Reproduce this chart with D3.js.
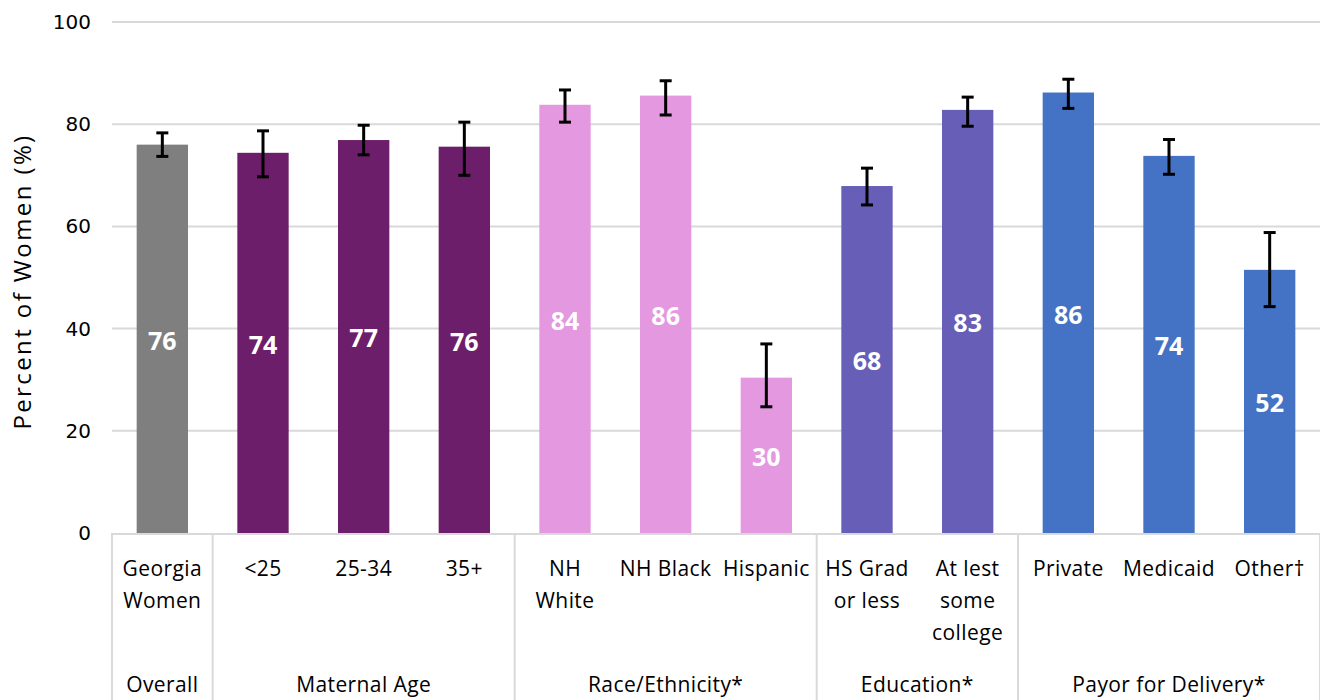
<!DOCTYPE html>
<html>
<head>
<meta charset="utf-8">
<script src="https://cdn.jsdelivr.net/npm/d3@7"></script>
<style>
body { margin: 0; background: #fff; }
text { font-family: "Open Sans", "Noto Sans", sans-serif; }
</style>
</head>
<body>
<div id="chart"></div>
<script>
var width = 1320,
height = 700;

// data
var categories = ["Georgia\nWomen", "<25", "25-34", "35+", "NH\nWhite", "NH Black", "Hispanic",
  "HS Grad\nor less", "At lest\nsome\ncollege", "Private", "Medicaid", "Other\u2020"];
var values = [76, 74.4, 76.9, 75.6, 83.8, 85.6, 30.4, 67.9, 82.8, 86.2, 73.8, 51.5];
var labels = ["76", "74", "77", "76", "84", "86", "30", "68", "83", "86", "74", "52"];
var ciLow = [73.7, 69.7, 74.0, 70.0, 80.4, 81.8, 24.7, 64.2, 79.6, 83.1, 70.2, 44.3];
var ciHigh = [78.3, 78.7, 79.8, 80.4, 86.7, 88.5, 37.0, 71.4, 85.3, 88.8, 77.0, 58.8];
var groups = ["Overall", "Maternal Age", "Race/Ethnicity*", "Education*", "Payor for Delivery*"];
var groupSizes = [1, 3, 3, 2, 3];
var groupColors = ["#7f7f7f", "#6d1e6b", "#e398e0", "#675eb8", "#4472c4"];
var yTicks = [0, 20, 40, 60, 80, 100];

var margin = {left: 112, right: 0, top: 22, bottom: 167};

var svg = d3.select("#chart").append("svg")
.attr("width", width)
.attr("height", height);

var x = d3.scaleBand()
.domain(d3.range(categories.length))
.range([margin.left, width - margin.right])
.paddingInner(0.49)
.paddingOuter(0.245);

var y = d3.scaleLinear()
.domain([0, 100])
.range([height - margin.bottom, margin.top]);

// group index of each category
var groupOf = [];
groupSizes.forEach(function(n, g) {
  for (var k = 0; k < n; k++) groupOf.push(g);
});

// gridlines
svg.append("g")
.selectAll("line")
.data(yTicks.slice(1))
.enter().append("line")
.attr("x1", margin.left)
.attr("x2", width - margin.right)
.attr("y1", function(d){ return y(d); })
.attr("y2", function(d){ return y(d); })
.style("stroke", "#d9d9d9")
.style("stroke-width", 2);

// y tick labels
svg.append("g")
.selectAll("text")
.data(yTicks)
.enter().append("text")
.attr("x", 91)
.attr("y", function(d){ return y(d); })
.attr("dy", "0.35em")
.attr("text-anchor", "end")
.style("font-family", "'DejaVu Sans', sans-serif")
.style("font-size", "20px")
.style("fill", "#000")
.text(function(d){ return d; });

// y axis title
svg.append("text")
.attr("transform", "translate(31," + ((y(0) + y(100)) / 2 + 4) + ") rotate(-90)")
.attr("text-anchor", "middle")
.style("font-size", "24px")
.style("letter-spacing", "2.4px")
.style("fill", "#000")
.text("Percent of  Women (%)");

// bars
svg.append("g")
.selectAll("rect")
.data(values)
.enter().append("rect")
.attr("x", function(d, i){ return x(i); })
.attr("width", x.bandwidth())
.attr("y", function(d){ return y(d); })
.attr("height", function(d){ return y(0) - y(d); })
.style("fill", function(d, i){ return groupColors[groupOf[i]]; });

// value labels
svg.append("g")
.selectAll("text")
.data(values)
.enter().append("text")
.attr("x", function(d, i){ return x(i) + x.bandwidth() / 2; })
.attr("y", function(d){ return (y(d) + y(0)) / 2 + 2; })
.attr("dy", "0.35em")
.attr("text-anchor", "middle")
.style("font-size", "25px")
.style("font-weight", "bold")
.style("fill", "#fff")
.text(function(d, i){ return labels[i]; });

// error bars
var err = svg.append("g")
.selectAll("g")
.data(values)
.enter().append("g")
.style("stroke", "#000")
.style("stroke-width", 3);

err.append("line")
.attr("x1", function(d, i){ return x(i) + x.bandwidth() / 2; })
.attr("x2", function(d, i){ return x(i) + x.bandwidth() / 2; })
.attr("y1", function(d, i){ return y(ciLow[i]); })
.attr("y2", function(d, i){ return y(ciHigh[i]); });

[ciLow, ciHigh].forEach(function(arr) {
  err.append("line")
  .attr("x1", function(d, i){ return x(i) + x.bandwidth() / 2 - 6; })
  .attr("x2", function(d, i){ return x(i) + x.bandwidth() / 2 + 6; })
  .attr("y1", function(d, i){ return y(arr[i]); })
  .attr("y2", function(d, i){ return y(arr[i]); });
});

// category axis baseline
svg.append("line")
.attr("x1", margin.left)
.attr("x2", width - margin.right)
.attr("y1", y(0) + 1)
.attr("y2", y(0) + 1)
.style("stroke", "#d9d9d9")
.style("stroke-width", 2);

// group separators
var step = x.step();
var bounds = [0];
groupSizes.forEach(function(n, g){ bounds.push(bounds[g] + n); });

svg.append("g")
.selectAll("line")
.data(bounds)
.enter().append("line")
.attr("x1", function(d){ return margin.left + d * step; })
.attr("x2", function(d){ return margin.left + d * step; })
.attr("y1", y(0))
.attr("y2", height)
.style("stroke", "#d9d9d9")
.style("stroke-width", 2);

// category labels
var catText = svg.append("g")
.selectAll("text")
.data(categories)
.enter().append("text")
.attr("x", function(d, i){ return x(i) + x.bandwidth() / 2; })
.attr("y", 576)
.attr("text-anchor", "middle")
.style("font-size", "21px")
.style("letter-spacing", "0.4px")
.style("fill", "#000");

catText.selectAll("tspan")
.data(function(d){ return d.split("\n"); })
.enter().append("tspan")
.attr("x", function(){ return d3.select(this.parentNode).attr("x"); })
.attr("dy", function(d, j){ return j === 0 ? 0 : 32; })
.text(function(d){ return d; });

// group labels
svg.append("g")
.selectAll("text")
.data(groups)
.enter().append("text")
.attr("x", function(d, g){ return margin.left + (bounds[g] + bounds[g + 1]) / 2 * step; })
.attr("y", 692)
.attr("text-anchor", "middle")
.style("font-size", "21px")
.style("letter-spacing", "0.4px")
.style("fill", "#000")
.text(function(d){ return d; });
</script>
</body>
</html>
